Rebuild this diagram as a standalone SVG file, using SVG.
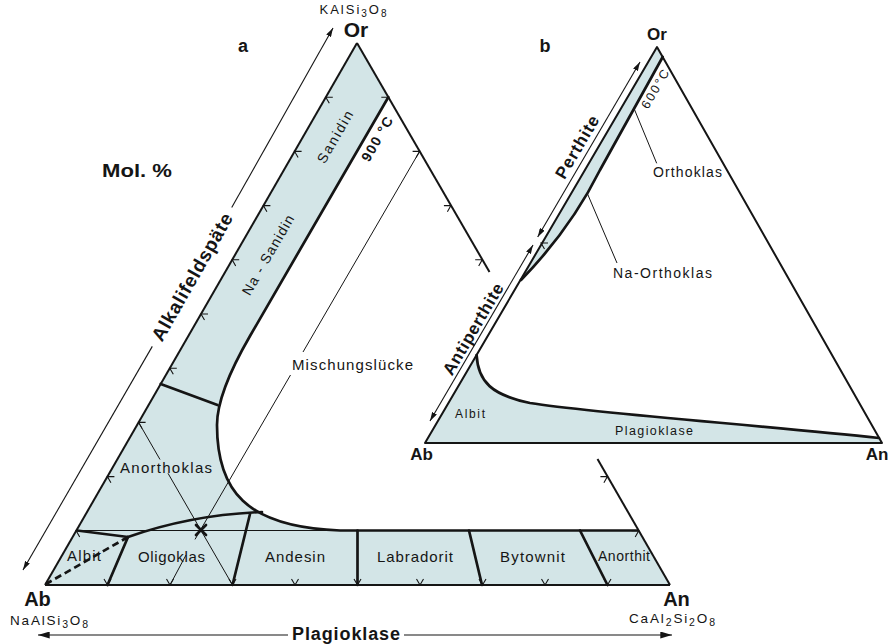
<svg xmlns="http://www.w3.org/2000/svg" width="894" height="644" viewBox="0 0 894 644">
<defs>
<style>
.edge{fill:none;stroke:#151515;stroke-width:2;stroke-linejoin:round}
.thick{fill:none;stroke:#151515;stroke-width:2.7;stroke-linejoin:round;stroke-linecap:round}
.thin{fill:none;stroke:#151515;stroke-width:1}
.tick{fill:none;stroke:#151515;stroke-width:1.1}
.shade{fill:#d3e5e7;stroke:none}
.dash{fill:none;stroke:#151515;stroke-width:2.7;stroke-dasharray:7 4}
.arr{fill:none;stroke:#151515;stroke-width:1.1}
text{font-family:"Liberation Sans",Arial,sans-serif;fill:#151515}
.lbl{font-size:14px}
.sm{font-size:12px}
.b{font-weight:bold}
</style>
<marker id="ah" viewBox="0 0 10 6" refX="10" refY="3" markerWidth="9" markerHeight="5.4" markerUnits="userSpaceOnUse" orient="auto-start-reverse">
<path d="M0,0 L10,3 L0,6 z" fill="#151515"/>
</marker>
<marker id="ahb" viewBox="0 0 10 6" refX="10" refY="3" markerWidth="12" markerHeight="7" markerUnits="userSpaceOnUse" orient="auto-start-reverse">
<path d="M0,0 L10,3 L0,6 z" fill="#151515"/>
</marker>
</defs>
<rect width="894" height="644" fill="#ffffff"/>

<!-- ===== Triangle a ===== -->
<g id="triangle-a">
  <path class="shade" d="M357 43 L388.3 97.2 L250 336 Q217 393 217 425 C217 490 245 527 340 530.5 L637.7 530.5 L670 585 L45 585 Z"/>
  <g id="a-thin-lines">
    <path class="thin" d="M77 530.5 L340 530.5"/>
    <path class="thin" d="M419.6 151.4 L303 352 M290.5 375 L195 539.4 M186 555 L170 585"/>
    <path class="thin" d="M138.6 422.4 L160 459.5 M168 473.3 L232.5 585"/>
  </g>
  <g id="a-edges">
    <path class="edge" d="M45 585 L357 43"/>
    <path class="edge" d="M357 43 L489.5 272"/>
    <path class="edge" d="M597.5 459 L670 585"/>
    <path class="edge" d="M45 585 L670 585"/>
  </g>
  <g id="a-boundaries">
    <path class="thick" d="M388.3 97.2 L250 336 Q217 393 217 425 C217 490 245 527 340 530.5 L637.7 530.5"/>
    <path class="thick" d="M160.7 384 L217.5 405"/>
    <path class="thick" d="M77 530.5 L128 537 C165 524 210 514 262 512"/>
    <path class="thick" d="M128 537 L107.5 585"/>
    <path class="thick" d="M250 514 L232.5 585"/>
    <path class="thick" d="M357.5 530.5 L357.5 585"/>
    <path class="thick" d="M469 530.5 L482 585"/>
    <path class="thick" d="M580 530.5 L607.5 585"/>
    <path class="dash" d="M128 537 L46 584"/>
    <path class="thick" d="M196 525 L206 535 M196 535 L206 525"/>
  </g>
  <g id="a-ticks">
    <path class="tick" d="M332.8 97.2 L325.8 97.2 L329.3 103.3 M301.6 151.4 L294.6 151.4 L298.1 157.5 M270.4 205.6 L263.4 205.6 L266.9 211.7 M239.2 259.8 L232.2 259.8 L235.7 265.9 M208 314 L201 314 L204.5 320.1 M176.8 368.2 L169.8 368.2 L173.3 374.3 M145.6 422.4 L138.6 422.4 L142.1 428.5 M114.4 476.6 L107.4 476.6 L110.9 482.7 M83.2 530.8 L76.2 530.8 L79.7 536.9"/>
    <path class="tick" d="M381.3 97.2 L388.3 97.2 L384.8 103.3 M412.6 151.4 L419.6 151.4 L416.1 157.5 M443.9 205.6 L450.9 205.6 L447.4 211.7 M475.2 259.8 L482.2 259.8 L478.7 265.9 M600.4 476.6 L607.4 476.6 L603.9 482.7 M631.7 530.8 L638.7 530.8 L635.2 536.9"/>
    <path class="tick" d="M104 578.9 L107.5 585 L111 578.9 M166.5 578.9 L170 585 L173.5 578.9 M229 578.9 L232.5 585 L236 578.9 M291.5 578.9 L295 585 L298.5 578.9 M354 578.9 L357.5 585 L361 578.9 M416.5 578.9 L420 585 L423.5 578.9 M479 578.9 L482.5 585 L486 578.9 M541.5 578.9 L545 585 L548.5 578.9 M604 578.9 L607.5 585 L611 578.9"/>
  </g>
  <g id="a-labels">
    <text x="353" y="14" text-anchor="middle" font-size="13" textLength="67">KAlSi<tspan dy="3" font-size="10">3</tspan><tspan dy="-3">O</tspan><tspan dy="3" font-size="10">8</tspan></text>
    <text class="b" x="356" y="37" font-size="21" text-anchor="middle">Or</text>
    <text class="b" x="243" y="52" font-size="18" text-anchor="middle">a</text>
    <text class="b" x="137" y="177" font-size="19" text-anchor="middle" textLength="70" lengthAdjust="spacingAndGlyphs">Mol. %</text>
    <text class="lbl" x="335" y="137" transform="rotate(-60 335 137)" text-anchor="middle" dy="0.35em" textLength="58">Sanidin</text>
    <text class="lbl b" x="377" y="139" transform="rotate(-60 377 139)" text-anchor="middle" dy="0.35em" textLength="49">900 °C</text>
    <text class="lbl" x="268" y="255" transform="rotate(-60 268 255)" text-anchor="middle" dy="0.35em" textLength="90">Na - Sanidin</text>
    <text x="352.5" y="370" text-anchor="middle" font-size="15" textLength="121">Mischungslücke</text>
    <text x="166" y="473" text-anchor="middle" font-size="15" textLength="92">Anorthoklas</text>
    <text x="84" y="561" text-anchor="middle" font-size="15" textLength="34">Albit</text>
    <text x="171.5" y="562" text-anchor="middle" font-size="15" textLength="67">Oligoklas</text>
    <text x="295" y="562" text-anchor="middle" font-size="15" textLength="60">Andesin</text>
    <text x="415" y="562" text-anchor="middle" font-size="15" textLength="76">Labradorit</text>
    <text x="532.5" y="562" text-anchor="middle" font-size="15" textLength="65">Bytownit</text>
    <text x="624" y="561" text-anchor="middle" font-size="14" textLength="52">Anorthit</text>
    <text class="b" x="37.5" y="606" font-size="20" text-anchor="middle">Ab</text>
    <text x="49" y="625" text-anchor="middle" font-size="13.5" textLength="78">NaAlSi<tspan dy="3" font-size="10.5">3</tspan><tspan dy="-3">O</tspan><tspan dy="3" font-size="10.5">8</tspan></text>
    <text class="b" x="676.5" y="606" font-size="20" text-anchor="middle">An</text>
    <text x="672" y="623" text-anchor="middle" font-size="13.5" textLength="86">CaAl<tspan dy="3" font-size="10.5">2</tspan><tspan dy="-3">Si</tspan><tspan dy="3" font-size="10.5">2</tspan><tspan dy="-3">O</tspan><tspan dy="3" font-size="10.5">8</tspan></text>
  </g>
</g>

<!-- ===== Axis arrows and leaders ===== -->
<g id="connectors">
  <path class="arr" d="M152.3 346.4 L23 570" marker-end="url(#ah)"/>
  <path class="arr" d="M231.7 207.6 L333 28" marker-end="url(#ah)"/>
  <path class="arr" d="M288 635 L38 635" marker-end="url(#ahb)"/>
  <path class="arr" d="M404 635 L672 635" marker-end="url(#ahb)"/>
  <path class="arr" d="M537.7 237 L640 62" marker-start="url(#ah)" marker-end="url(#ah)"/>
  <path class="arr" d="M533 245 L430 421" marker-start="url(#ah)" marker-end="url(#ah)"/>
  <path class="thin" d="M656.7 163.3 L633.3 106.7"/>
  <path class="thin" d="M617 263 L585 188"/>
</g>
<g id="axis-labels">
  <text class="b" x="192" y="277" transform="rotate(-60.2 192 277)" text-anchor="middle" dy="0.35em" font-size="19" textLength="144">Alkalifeldspäte</text>
  <text class="b" x="346" y="640" text-anchor="middle" font-size="18" textLength="108">Plagioklase</text>
</g>

<!-- ===== Triangle b ===== -->
<g id="triangle-b">
  <path class="shade" d="M657 47 L662.7 57 L600 170 C585 200 560 240 521 280 Z"/>
  <path class="shade" d="M425 443 L476.6 355 C478 382 492 395 530 403 C600 414 760 425 879 438 L882 443 Z"/>
  <path class="edge" d="M425 443 L657 47 L882 443 Z"/>
  <path class="thick" d="M662.7 57 L600 170 C585 200 560 240 521 280"/>
  <path class="thick" d="M476.6 355 C478 382 492 395 530 403 C600 414 760 425 879 438"/>
  <path class="tick" d="M548 243 L541 243 L544.5 249.1"/>
  <text class="b" x="545" y="52" font-size="18" text-anchor="middle">b</text>
  <text class="b" x="657" y="40" font-size="17" text-anchor="middle">Or</text>
  <text class="b" x="421.5" y="460" font-size="17" text-anchor="middle">Ab</text>
  <text class="b" x="877" y="460" font-size="17" text-anchor="middle">An</text>
  <text x="655" y="89" transform="rotate(-59.6 655 89)" text-anchor="middle" dy="0.35em" font-size="12.5" textLength="43">600°C</text>
  <text x="687.5" y="177" text-anchor="middle" font-size="14" textLength="69">Orthoklas</text>
  <text x="662.5" y="278" text-anchor="middle" font-size="14" textLength="99">Na-Orthoklas</text>
  <text x="470" y="418" text-anchor="middle" font-size="12" textLength="30">Albit</text>
  <text x="654" y="435" text-anchor="middle" font-size="12.5" textLength="78">Plagioklase</text>
  <text class="b" x="577" y="147" transform="rotate(-59.6 577 147)" text-anchor="middle" dy="0.35em" font-size="17" textLength="70">Perthite</text>
  <text class="b" x="473" y="329" transform="rotate(-59.6 473 329)" text-anchor="middle" dy="0.35em" font-size="17" textLength="103">Antiperthite</text>
</g>
</svg>
